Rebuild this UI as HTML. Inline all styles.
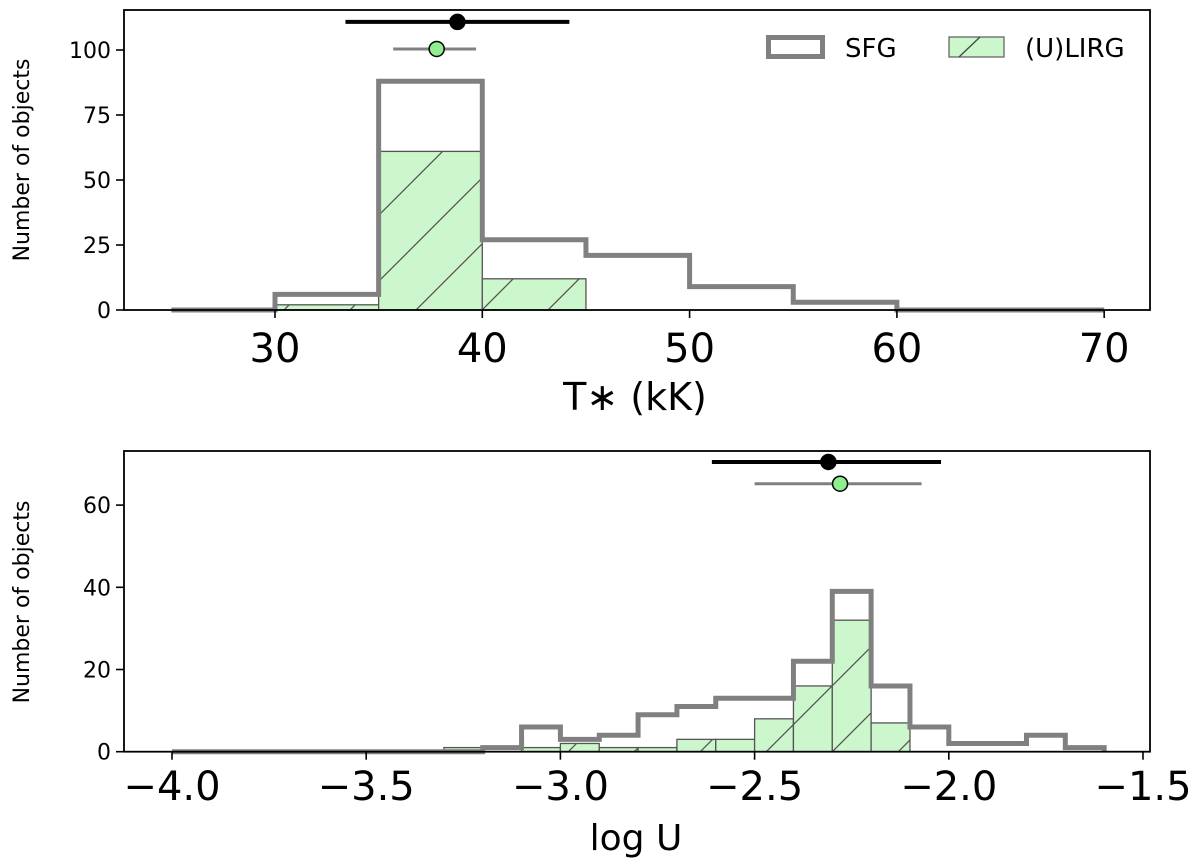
<!DOCTYPE html>
<html><head><meta charset="utf-8"><style>
html,body{margin:0;padding:0;background:#fff;}
svg{display:block;font-family:"DejaVu Sans","Liberation Sans",sans-serif;}
</style></head><body>
<svg id="fig" width="1200" height="867" viewBox="0 0 1200 867">
<defs>
<pattern id="hatch" patternUnits="userSpaceOnUse" width="66" height="66">
<rect width="66" height="66" fill="#ccf7cc"/>
<path d="M0,66 L66,0 M-10,10 L10,-10 M56,76 L76,56" stroke="#555" stroke-width="1.3"/>
</pattern>
</defs>
</svg>
<script>
// ---- Top panel data (T* in kK) ----
const topBinEdges = [25,30,35,40,45,50,55,60,65,70];
const topSFG = [0,6,88,27,21,9,3,0,0];
const topLIRG = [0,2,61,12,0,0,0,0,0];
const topXTicks = [30,40,50,60,70];
const topYTicks = [0,25,50,75,100];
const topSFGMean = [38.8,110.8], topSFGErr = [33.4,44.2];
const topLIRGMean = [37.8,100.4], topLIRGErr = [35.7,39.7];
// ---- Bottom panel data (log U) ----
const botBinEdges = [-4.0,-3.9,-3.8,-3.7,-3.6,-3.5,-3.4,-3.3,-3.2,-3.1,-3.0,-2.9,-2.8,-2.7,-2.6,-2.5,-2.4,-2.3,-2.2,-2.1,-2.0,-1.9,-1.8,-1.7,-1.6];
const botSFG = [0,0,0,0,0,0,0,0,1,6,3,4,9,11,13,13,22,39,16,6,2,2,4,1];
const botLIRG = [0,0,0,0,0,0,0,1,0,1,2,1,1,3,3,8,16,32,7,0,0,0,0,0];
const botXTicks = [-4.0,-3.5,-3.0,-2.5,-2.0,-1.5];
const botYTicks = [0,20,40,60];
const botSFGMean = [-2.31,70.5], botSFGErr = [-2.61,-2.02];
const botLIRGMean = [-2.28,65.2], botLIRGErr = [-2.50,-2.07];

const NS="http://www.w3.org/2000/svg";
const svg=document.getElementById('fig');
function mk(tag,attrs,parent){const e=document.createElementNS(NS,tag);for(const k in attrs)e.setAttribute(k,attrs[k]);(parent||svg).appendChild(e);return e;}

function panel(o){
  const g=mk('g',{});
  
  
  const X=v=>o.x0+(v-o.xv0)*o.xs, Y=v=>o.y0-v*o.ys;
  o.lirg.forEach((v,i)=>{ if(v<=0)return;
    const x1=X(o.edges[i]),x2=X(o.edges[i+1]);
    const r=mk('rect',{x:x1,y:Y(v),width:x2-x1,height:Y(0)-Y(v),fill:'url(#hatch)',stroke:'#555','stroke-width':1.3},g);
    
    
  });
  let d='M'+X(o.edges[0])+','+Y(0);
  o.sfg.forEach((v,i)=>{d+=' V'+Y(v)+' H'+X(o.edges[i+1]);});
  d+=' V'+Y(0);
  const p=mk('path',{d:d,fill:'none',stroke:'#808080','stroke-width':5},g);
  
  
  const f=mk('rect',{x:o.L,y:o.T,width:o.R-o.L,height:o.y0-o.T,fill:'none',stroke:'#000','stroke-width':1.8},g);
  
  
  [[o.sm,o.se,'#000',4,'#000'],[o.lm,o.le,'#808080',3,'#90ee90']].forEach(a=>{
    const ln=mk('line',{x1:X(a[1][0]),x2:X(a[1][1]),y1:Y(a[0][1]),y2:Y(a[0][1]),stroke:a[2],'stroke-width':a[3]},g);
    
    
    const c=mk('circle',{cx:X(a[0][0]),cy:Y(a[0][1]),r:7.5,fill:a[4],stroke:'#000','stroke-width':1.5},g);
    
    
  });
  o.xt.forEach(t=>{
    mk('line',{x1:X(t),x2:X(t),y1:o.y0,y2:o.y0+8,stroke:'#000','stroke-width':1.6},g);
    const tx=mk('text',{x:X(t),y:o.xlabY,'font-size':o.xfs,'text-anchor':'middle',fill:'#000'},g);
    tx.textContent=String(o.fmt(t)).replace('-','\u2212');
    
    
  });
  o.yt.forEach(t=>{
    mk('line',{x1:o.L-8,x2:o.L,y1:Y(t),y2:Y(t),stroke:'#000','stroke-width':1.6},g);
    const tx=mk('text',{x:o.L-13,y:Y(t)+8,'font-size':22,'text-anchor':'end',fill:'#000'},g);
    tx.textContent=t;
    
    
  });
  const yl=mk('text',{x:0,y:0,'font-size':22,'text-anchor':'middle',transform:'translate(29,'+o.ylY+') rotate(-90)'},g);
  yl.textContent='Number of objects';
  
  
  const xl=mk('text',{x:o.xtitleX,y:o.xtitleY,'font-size':o.xtfs,'text-anchor':'middle'},g);
  xl.textContent=o.xtitle;
  
  
}
panel({name:'top-panel',edges:topBinEdges,sfg:topSFG,lirg:topLIRG,xt:topXTicks,yt:topYTicks,
  x0:275,xv0:30,xs:20.73,y0:310,ys:2.6,L:124,R:1150,T:10,xlabY:362,xfs:40,fmt:t=>t,
  sm:topSFGMean,se:topSFGErr,lm:topLIRGMean,le:topLIRGErr,ylY:160,xtitle:'T\u2217 (kK)',xtitleX:635,xtitleY:410,xtfs:38});
panel({name:'bottom-panel',edges:botBinEdges,sfg:botSFG,lirg:botLIRG,xt:botXTicks,yt:botYTicks,
  x0:172,xv0:-4.0,xs:388.4,y0:751.7,ys:4.11,L:124,R:1150,T:451,xlabY:800,xfs:40,fmt:t=>t.toFixed(1),
  sm:botSFGMean,se:botSFGErr,lm:botLIRGMean,le:botLIRGErr,ylY:602,xtitle:'log U',xtitleX:636,xtitleY:850,xtfs:36});
const lg=mk('g',{});


const l1=mk('rect',{x:768.5,y:37.5,width:54,height:19,fill:'none',stroke:'#808080','stroke-width':5},lg);


const t1=mk('text',{x:845,y:57,'font-size':26},lg);t1.textContent='SFG';


const l2=mk('rect',{x:949,y:37,width:55,height:20,fill:'#ccf7cc',stroke:'#666','stroke-width':1.3},lg);


mk('line',{x1:959,y1:57,x2:980,y2:37,stroke:'#444','stroke-width':1.3},lg);
const t2=mk('text',{x:1025,y:57,'font-size':26},lg);t2.textContent='(U)LIRG';


</script>
</body></html>
